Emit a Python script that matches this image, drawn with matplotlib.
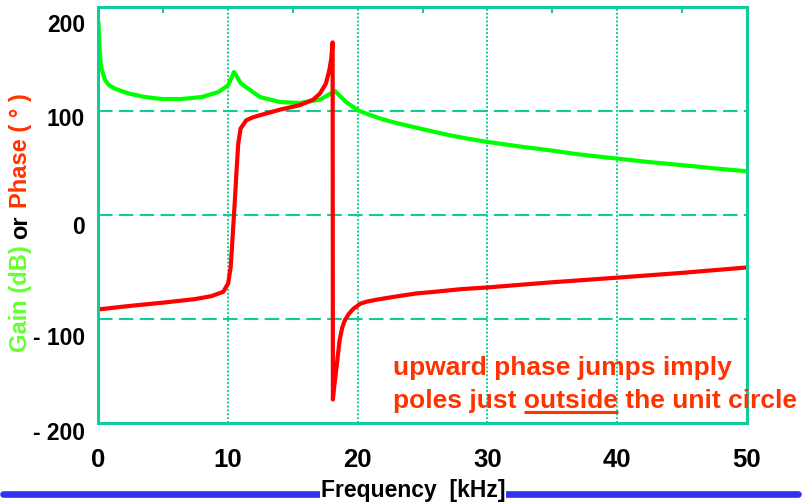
import matplotlib
matplotlib.use("Agg")
import matplotlib.pyplot as plt
from matplotlib.lines import Line2D
from matplotlib.transforms import blended_transform_factory, ScaledTranslation

plt.rcParams['font.family'] = ['Liberation Sans', 'DejaVu Sans']
plt.rcParams['font.weight'] = 'bold'

# ---- data -------------------------------------------------------------
freq_gain = [0, 0.09, 0.2, 0.5, 0.8, 1.27, 2.3, 3.6, 4.9, 6.4, 7.96, 9.24, 10.0,
             10.45, 11.0, 11.8, 12.45, 14.0, 15.5, 17.1, 18.23, 19.1, 20.0,
             21.0, 22.0, 23.0, 24.5, 26.0, 27.1, 28.5, 30.0, 32.5, 34.8, 37.0,
             40.0, 42.5, 45.1, 47.5, 50.0]
gain_db = [184, 158, 142, 130, 125, 121.5, 117, 113.5, 111.6, 111.6, 113.5, 118.3, 124.8,
           137.5, 126.4, 119.3, 113.5, 108.7, 107.8, 111, 119.3, 108.7, 100.8,
           96, 91.8, 88.5, 84.1, 79.8, 76.8, 73.5, 70.4, 66, 62.4, 58.5,
           54.4, 51, 48, 45, 42.2]

freq_phase = [0, 2.3, 4.9, 7.44, 8.73, 9.62, 10.0, 10.2, 10.52, 10.65, 10.78, 10.96,
              11.4, 11.9, 12.45, 14.0, 15.5, 16.56, 17.08, 17.54, 17.8, 17.95, 18.06,
              18.08, 18.18, 18.36, 18.6, 18.8, 19.0, 19.3, 19.65, 20.2, 20.7, 21.3,
              22.0, 23.0, 24.5, 26.0, 28.0, 30.0, 34.8, 40.0, 45.1, 50.0]
phase_deg = [-90.5, -87.3, -84.1, -80.6, -77.7, -73.6, -65.6, -49.6, 14.4, 43, 68.8, 83.2,
             91.2, 94, 96, 101.4, 105.6, 111, 116.8, 126.4, 139, 150, 166,
             -177, -165, -146, -120, -108, -101, -95, -90, -85, -83, -81.5,
             -80, -78, -75.2, -73.5, -71, -69.4, -64.6, -60, -55.3, -50.2]

x_ticks = [0, 10, 20, 30, 40, 50]
x_labels = ["0", "10", "20", "30", "40", "50"]
x_minor = [5, 15, 25, 35, 45]
x_grid = [10, 20, 30, 40]

y_ticks = [-200, -100, 0, 100, 200]
y_labels = ["- 200", "- 100", "0", "100", "200"]
y_label_drop_px = [10, 19, 12, 8, 19]
y_grid = [-100, 0, 100]

# ---- styling ----------------------------------------------------------
TEAL = "#11CC99"
GREEN = "#00FF00"
RED = "#FF0000"
ORANGE = "#FF3300"
LABEL_GREEN = "#66FF33"
BLUE = "#3333EE"

W, H = 803, 504
fig = plt.figure(figsize=(W / 100, H / 100), dpi=100)
ax = fig.add_axes([98.5 / W, (H - 423.4) / H, (746.7 - 98.5) / W, (423.4 - 7) / H])
ax.set_xlim(0, 50)
ax.set_ylim(-200, 200)

for v in y_grid:
    ax.axhline(v, color=TEAL, lw=1.5, ls=(0, (7, 3)), zorder=1)
for v in x_grid:
    ax.axvline(v, color=TEAL, lw=1.4, ls=(0, (1, 1)), zorder=1)

ax.plot(freq_gain, gain_db, color=GREEN, lw=3, zorder=3, solid_joinstyle='round')
ax.plot(freq_phase, phase_deg, color=RED, lw=3, zorder=4, solid_joinstyle='round')

for s in ax.spines.values():
    s.set_color(TEAL)
    s.set_linewidth(2.2)
    s.set_zorder(5)

ax.set_xticks(x_ticks)
ax.set_xticklabels(x_labels, fontsize=18.5, fontweight='bold')
ax.set_xticks(x_minor, minor=True)
ax.tick_params(axis='x', which='major', length=0, pad=17.5)
ax.tick_params(axis='x', which='minor', bottom=False, top=True, direction='in',
               length=4, width=1.5, color=TEAL)

ax.set_yticks(y_ticks)
ax.set_yticklabels([])
ax.tick_params(axis='y', length=0)
ytrans = blended_transform_factory(ax.transAxes, ax.transData)
for v, lab, dy in zip(y_ticks, y_labels, y_label_drop_px):
    ax.text(0, v, lab, transform=ytrans + ScaledTranslation(-13.5 / 100, -dy / 100, fig.dpi_scale_trans),
            ha='right', va='center', fontsize=16.5, fontweight='bold', color='black',
            clip_on=False)

renderer = fig.canvas.get_renderer()


def text_width(s, size):
    t = fig.text(0, 0, s, fontsize=size, fontweight='bold')
    w = t.get_window_extent(renderer=renderer).width
    t.remove()
    return w


# multi-coloured vertical axis title
ylab_parts = [("Gain (dB)", LABEL_GREEN), (" or ", "black"), ("Phase ( ° )", ORANGE)]
ylab_size = 17
base_px = H - 352
acc = ""
for part, col in ylab_parts:
    acc += part
    end = text_width(acc.rstrip(), ylab_size)
    start = end - text_width(part.strip(), ylab_size)
    fig.text(21 / W, (base_px + start) / H, part.strip(), rotation=90,
             ha='center', va='bottom', fontsize=ylab_size, fontweight='bold', color=col)

# bottom rule and axis title
fig.add_artist(Line2D([3 / W, 798 / W], [(H - 494) / H] * 2, transform=fig.transFigure,
                      color=BLUE, lw=4.8, solid_capstyle='round', zorder=1))
fig.text(413 / W, (H - 497) / H, "Frequency  [kHz]", ha='center', va='baseline',
         fontsize=16.5, fontweight='bold', color='black', zorder=3,
         bbox=dict(facecolor='white', edgecolor='none', pad=0.5))

# annotation
ann_size = 19
left_px = 393
fig.text(left_px / W, (H - 375) / H, "upward phase jumps imply", ha='left', va='baseline',
         fontsize=ann_size, fontweight='bold', color=ORANGE)
line2 = "poles just outside the unit circle"
fig.text(left_px / W, (H - 408) / H, line2, ha='left', va='baseline',
         fontsize=ann_size, fontweight='bold', color=ORANGE)
u_end = left_px + text_width("poles just outside", ann_size)
u_start = u_end - text_width("outside", ann_size)
fig.add_artist(Line2D([u_start / W, u_end / W], [(H - 411.5) / H] * 2, transform=fig.transFigure,
                      color=ORANGE, lw=2.2, solid_capstyle='butt'))

fig.savefig("out.png", dpi=100)
